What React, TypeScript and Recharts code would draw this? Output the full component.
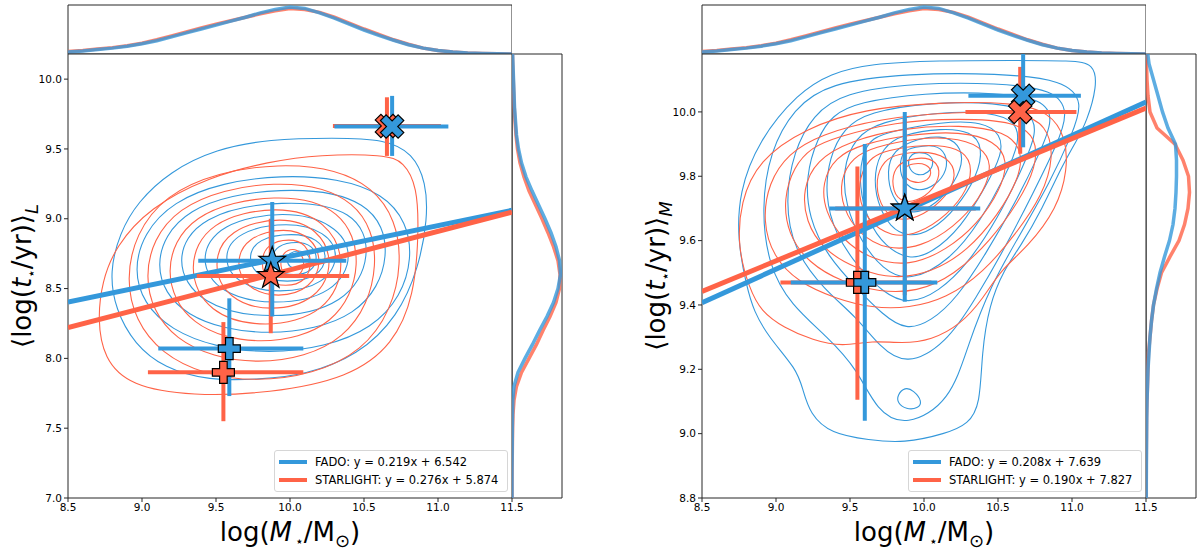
import React from 'react';
import { ScatterChart, Scatter, XAxis, YAxis, ReferenceArea, Legend } from 'recharts';

const BLUE = '#3498db';
const RED = '#ff6347';
const INK = '#262626';
const FONT = '"DejaVu Sans", sans-serif';

// axis ticks
const massTicks = [8.5, 9.0, 9.5, 10.0, 10.5, 11.0, 11.5];
const ageTicksL = [7.0, 7.5, 8.0, 8.5, 9.0, 9.5, 10.0];
const ageTicksM = [8.8, 9.0, 9.2, 9.4, 9.6, 9.8, 10.0];

// linear fits [slope, intercept]
const fadoFitL = [0.219, 6.542];
const starlightFitL = [0.276, 5.874];
const fadoFitM = [0.208, 7.639];
const starlightFitM = [0.19, 7.827];

// top histograms (stellar mass), normalised height
const massBins = [8.5, 8.6, 8.7, 8.8, 8.9, 9.0, 9.1, 9.2, 9.3, 9.4, 9.5, 9.6, 9.7, 9.8, 9.9, 10.0, 10.1, 10.2, 10.3, 10.4, 10.5, 10.6, 10.7, 10.8, 10.9, 11.0, 11.1, 11.2, 11.3, 11.4, 11.5];
const fadoMassHist = [0.04, 0.06, 0.09, 0.12, 0.16, 0.21, 0.27, 0.35, 0.43, 0.51, 0.59, 0.67, 0.75, 0.84, 0.91, 0.96, 0.93, 0.84, 0.73, 0.61, 0.49, 0.38, 0.28, 0.19, 0.12, 0.07, 0.04, 0.02, 0.01, 0.005, 0];
const starlightMassHist = [0.05, 0.07, 0.1, 0.13, 0.17, 0.22, 0.29, 0.37, 0.45, 0.53, 0.61, 0.68, 0.75, 0.82, 0.88, 0.93, 0.91, 0.85, 0.75, 0.63, 0.51, 0.4, 0.29, 0.2, 0.12, 0.07, 0.04, 0.02, 0.01, 0.005, 0];

// right histograms (age)
const ageBinsL = [7.0, 7.1, 7.2, 7.3, 7.4, 7.5, 7.6, 7.7, 7.8, 7.9, 8.0, 8.1, 8.2, 8.3, 8.4, 8.5, 8.6, 8.7, 8.8, 8.9, 9.0, 9.1, 9.2, 9.3, 9.4, 9.5, 9.6, 9.7, 9.8, 9.9, 10.0, 10.1, 10.2];
const fadoAgeHistL = [0, 0, 0, 0.003, 0.005, 0.007, 0.01, 0.015, 0.04, 0.12, 0.26, 0.41, 0.55, 0.7, 0.83, 0.92, 0.97, 0.95, 0.88, 0.78, 0.66, 0.53, 0.4, 0.28, 0.19, 0.13, 0.09, 0.07, 0.05, 0.04, 0.03, 0.02, 0.01];
const starlightAgeHistL = [0, 0, 0.002, 0.005, 0.008, 0.012, 0.02, 0.04, 0.09, 0.19, 0.34, 0.49, 0.62, 0.76, 0.88, 0.95, 0.96, 0.92, 0.83, 0.72, 0.6, 0.47, 0.34, 0.24, 0.16, 0.11, 0.08, 0.06, 0.045, 0.035, 0.025, 0.015, 0.008];
const ageBinsM = [8.8, 8.85, 8.9, 8.95, 9.0, 9.05, 9.1, 9.15, 9.2, 9.25, 9.3, 9.35, 9.4, 9.45, 9.5, 9.55, 9.6, 9.65, 9.7, 9.75, 9.8, 9.85, 9.9, 9.95, 10.0, 10.05, 10.1, 10.15, 10.2];
const fadoAgeHistM = [0.005, 0.006, 0.008, 0.01, 0.012, 0.015, 0.02, 0.03, 0.04, 0.06, 0.08, 0.11, 0.15, 0.21, 0.28, 0.37, 0.47, 0.54, 0.58, 0.6, 0.61, 0.61, 0.59, 0.44, 0.33, 0.24, 0.15, 0.06, 0.02];
const starlightAgeHistM = [0.003, 0.004, 0.005, 0.007, 0.01, 0.012, 0.02, 0.03, 0.04, 0.05, 0.08, 0.11, 0.15, 0.22, 0.31, 0.48, 0.66, 0.77, 0.84, 0.87, 0.85, 0.74, 0.58, 0.22, 0.08, 0.04, 0.02, 0.01, 0.005];

// density contours, left panel (light-weighted age)
const fadoContoursL = [
  [[9.86, 9.57], [10.3, 9.58], [10.64, 9.57], [10.83, 9.47], [10.92, 9.26], [10.93, 9.0], [10.87, 8.65], [10.73, 8.3], [10.46, 8.02], [10.1, 7.88], [9.8, 7.85], [9.45, 7.84], [9.15, 7.93], [8.95, 8.1], [8.82, 8.35], [8.78, 8.62], [8.85, 8.9], [8.97, 9.12], [9.19, 9.34], [9.5, 9.5]],
  [[10.88, 8.72], [10.7, 9.23], [9.95, 9.35], [9.14, 9.17], [8.88, 8.62], [9.14, 8.17], [9.85, 7.99], [10.62, 8.17]],
  [[10.7, 8.74], [10.56, 9.15], [9.95, 9.24], [9.26, 9.1], [9.05, 8.66], [9.26, 8.28], [9.85, 8.14], [10.49, 8.28]],
  [[10.56, 8.74], [10.45, 9.07], [9.96, 9.14], [9.385, 9.03], [9.21, 8.7], [9.385, 8.38], [9.87, 8.27], [10.385, 8.38]],
  [[10.44, 8.74], [10.3, 8.97], [9.97, 9.06], [9.52, 8.97], [9.38, 8.71], [9.52, 8.46], [9.9, 8.375], [10.3, 8.46]],
  [[10.34, 8.74], [10.24, 8.91], [9.99, 8.98], [9.64, 8.91], [9.54, 8.72], [9.64, 8.53], [9.93, 8.46], [10.24, 8.53]],
  [[10.26, 8.73], [10.19, 8.86], [10.02, 8.9], [9.78, 8.86], [9.71, 8.72], [9.78, 8.58], [9.98, 8.54], [10.19, 8.58]],
  [[10.19, 8.72], [10.15, 8.81], [10.05, 8.84], [9.91, 8.81], [9.87, 8.715], [9.91, 8.62], [10.02, 8.59], [10.15, 8.62]],
  [[10.14, 8.705], [10.115, 8.757], [10.06, 8.775], [9.995, 8.757], [9.975, 8.705], [9.995, 8.653], [10.05, 8.635], [10.115, 8.653]],
];
const starlightContoursL = [
  [[9.86, 9.41], [10.2, 9.46], [10.64, 9.46], [10.77, 9.41], [10.86, 9.23], [10.87, 8.9], [10.84, 8.45], [10.7, 8.1], [10.4, 7.86], [9.86, 7.75], [9.34, 7.73], [8.92, 7.8], [8.74, 8.0], [8.7, 8.28], [8.73, 8.55], [8.82, 8.8], [9.05, 9.08], [9.45, 9.3]],
  [[10.81, 8.7], [10.62, 9.28], [9.95, 9.44], [9.08, 9.23], [8.83, 8.55], [9.08, 7.99], [9.75, 7.78], [10.56, 7.99]],
  [[10.63, 8.68], [10.48, 9.16], [9.92, 9.3], [9.18, 9.12], [8.97, 8.58], [9.18, 8.1], [9.78, 7.92], [10.42, 8.1]],
  [[10.5, 8.68], [10.36, 9.08], [9.92, 9.19], [9.31, 9.05], [9.13, 8.62], [9.31, 8.22], [9.8, 8.08], [10.32, 8.22]],
  [[10.39, 8.68], [10.25, 8.99], [9.93, 9.1], [9.44, 8.99], [9.3, 8.645], [9.44, 8.32], [9.83, 8.21], [10.25, 8.32]],
  [[10.3, 8.69], [10.19, 8.93], [9.95, 9.02], [9.58, 8.93], [9.47, 8.67], [9.58, 8.42], [9.87, 8.33], [10.19, 8.42]],
  [[10.22, 8.7], [10.145, 8.87], [9.97, 8.94], [9.705, 8.87], [9.63, 8.68], [9.705, 8.5], [9.92, 8.43], [10.145, 8.5]],
  [[10.15, 8.69], [10.11, 8.82], [10.0, 8.86], [9.84, 8.82], [9.8, 8.685], [9.84, 8.55], [9.97, 8.51], [10.11, 8.55]],
  [[10.1, 8.68], [10.075, 8.76], [10.02, 8.79], [9.955, 8.76], [9.93, 8.68], [9.955, 8.6], [10.01, 8.57], [10.075, 8.6]],
];

// density contours, right panel (mass-weighted age)
const fadoContoursM = [
  [[9.63, 10.15], [10.1, 10.16], [10.6, 10.16], [11.0, 10.16], [11.15, 10.15], [11.17, 10.08], [11.1, 9.97], [11.03, 9.91], [10.93, 9.83], [10.8, 9.7], [10.65, 9.58], [10.54, 9.51], [10.44, 9.4], [10.39, 9.25], [10.38, 9.09], [10.3, 9.03], [10.15, 9.0], [9.86, 8.97], [9.63, 8.98], [9.37, 9.0], [9.23, 9.06], [9.18, 9.14], [9.14, 9.2], [8.95, 9.3], [8.85, 9.38], [8.8, 9.46], [8.74, 9.6], [8.75, 9.75], [8.88, 9.91], [9.15, 10.06], [9.37, 10.12]],
  [[9.35, 10.09], [9.9, 10.12], [10.5, 10.12], [10.95, 10.1], [11.08, 10.03], [11.0, 9.93], [10.85, 9.78], [10.65, 9.62], [10.45, 9.46], [10.3, 9.28], [10.18, 9.1], [9.88, 9.02], [9.68, 9.07], [9.55, 9.2], [9.35, 9.3], [9.1, 9.4], [8.95, 9.52], [8.9, 9.7], [8.96, 9.88], [9.12, 10.01]],
  [[9.45, 10.06], [9.95, 10.09], [10.5, 10.09], [10.88, 10.07], [10.98, 10.0], [10.9, 9.9], [10.74, 9.75], [10.55, 9.58], [10.35, 9.42], [10.15, 9.28], [9.88, 9.21], [9.7, 9.27], [9.55, 9.36], [9.32, 9.45], [9.12, 9.57], [9.06, 9.72], [9.12, 9.88], [9.25, 9.99]],
  [[9.55, 10.03], [10.0, 10.06], [10.5, 10.06], [10.8, 10.04], [10.88, 9.98], [10.78, 9.87], [10.62, 9.72], [10.42, 9.56], [10.22, 9.42], [10.05, 9.35], [9.88, 9.32], [9.72, 9.37], [9.55, 9.45], [9.35, 9.55], [9.22, 9.67], [9.2, 9.8], [9.28, 9.92], [9.38, 9.99]],
  [[9.62, 10.0], [10.05, 10.03], [10.5, 10.03], [10.72, 10.0], [10.77, 9.94], [10.66, 9.82], [10.5, 9.67], [10.3, 9.53], [10.1, 9.44], [9.89, 9.4], [9.72, 9.44], [9.55, 9.52], [9.4, 9.62], [9.33, 9.74], [9.36, 9.86], [9.46, 9.95]],
  [[9.7, 9.97], [10.1, 10.0], [10.45, 10.0], [10.62, 9.97], [10.65, 9.91], [10.55, 9.8], [10.38, 9.66], [10.18, 9.54], [9.9, 9.47], [9.72, 9.51], [9.57, 9.6], [9.47, 9.71], [9.45, 9.82], [9.53, 9.92]],
  [[9.78, 9.94], [10.12, 9.97], [10.4, 9.97], [10.52, 9.93], [10.53, 9.87], [10.42, 9.77], [10.25, 9.64], [10.05, 9.56], [9.9, 9.54], [9.74, 9.58], [9.62, 9.66], [9.56, 9.77], [9.58, 9.87], [9.65, 9.92]],
  [[9.85, 9.93], [10.12, 9.95], [10.32, 9.94], [10.4, 9.89], [10.36, 9.8], [10.22, 9.7], [10.05, 9.63], [9.9, 9.61], [9.77, 9.64], [9.68, 9.72], [9.66, 9.81], [9.72, 9.89]],
  [[9.9, 9.91], [10.12, 9.93], [10.24, 9.9], [10.27, 9.84], [10.18, 9.76], [10.04, 9.7], [9.91, 9.68], [9.8, 9.72], [9.75, 9.79], [9.77, 9.87]],
  [[9.93, 9.89], [10.08, 9.9], [10.15, 9.87], [10.16, 9.82], [10.08, 9.77], [9.95, 9.75], [9.86, 9.78], [9.83, 9.83], [9.86, 9.88]],
  [[9.96, 9.875], [10.04, 9.87], [10.07, 9.84], [10.03, 9.81], [9.96, 9.8], [9.9, 9.82], [9.89, 9.85], [9.92, 9.87]],
  [[9.82, 9.12], [9.87, 9.145], [9.93, 9.135], [9.99, 9.1], [9.96, 9.078], [9.88, 9.075], [9.82, 9.095]],
];
const starlightContoursM = [
  [[9.2, 9.95], [9.6, 10.01], [10.1, 10.03], [10.6, 10.03], [10.85, 10.0], [10.96, 9.92], [10.97, 9.82], [10.9, 9.7], [10.7, 9.58], [10.52, 9.51], [10.4, 9.42], [10.25, 9.34], [10.05, 9.29], [9.85, 9.28], [9.65, 9.29], [9.45, 9.27], [9.25, 9.29], [9.05, 9.33], [8.9, 9.38], [8.82, 9.45], [8.74, 9.58], [8.76, 9.72], [8.88, 9.85]],
  [[9.3, 9.93], [9.7, 9.98], [10.2, 10.0], [10.65, 10.0], [10.83, 9.96], [10.88, 9.86], [10.8, 9.74], [10.62, 9.62], [10.4, 9.5], [10.15, 9.42], [9.9, 9.39], [9.65, 9.39], [9.4, 9.42], [9.15, 9.47], [8.98, 9.55], [8.91, 9.66], [8.95, 9.78], [9.08, 9.87]],
  [[9.4, 9.92], [9.8, 9.97], [10.25, 9.98], [10.62, 9.97], [10.76, 9.92], [10.76, 9.83], [10.64, 9.72], [10.45, 9.6], [10.2, 9.49], [9.95, 9.44], [9.7, 9.44], [9.45, 9.47], [9.22, 9.53], [9.08, 9.62], [9.05, 9.73], [9.12, 9.83], [9.24, 9.89]],
  [[9.5, 9.91], [9.85, 9.95], [10.25, 9.96], [10.55, 9.94], [10.67, 9.88], [10.64, 9.79], [10.5, 9.68], [10.3, 9.57], [10.05, 9.5], [9.8, 9.48], [9.55, 9.51], [9.32, 9.57], [9.2, 9.66], [9.18, 9.76], [9.27, 9.85]],
  [[9.58, 9.9], [9.9, 9.93], [10.25, 9.94], [10.48, 9.91], [10.57, 9.85], [10.52, 9.76], [10.36, 9.65], [10.15, 9.57], [9.9, 9.52], [9.65, 9.54], [9.45, 9.6], [9.33, 9.69], [9.31, 9.78], [9.4, 9.86]],
  [[9.66, 9.89], [9.95, 9.92], [10.25, 9.92], [10.42, 9.88], [10.46, 9.82], [10.38, 9.73], [10.2, 9.64], [9.98, 9.58], [9.75, 9.57], [9.56, 9.62], [9.45, 9.7], [9.43, 9.79], [9.52, 9.86]],
  [[9.74, 9.88], [10.0, 9.9], [10.24, 9.89], [10.33, 9.84], [10.3, 9.76], [10.16, 9.68], [9.96, 9.62], [9.78, 9.61], [9.62, 9.66], [9.55, 9.74], [9.58, 9.82], [9.65, 9.86]],
  [[9.82, 9.87], [10.04, 9.88], [10.19, 9.85], [10.22, 9.79], [10.12, 9.72], [9.96, 9.67], [9.8, 9.66], [9.7, 9.71], [9.67, 9.79], [9.73, 9.85]],
  [[9.9, 9.855], [10.05, 9.86], [10.12, 9.82], [10.07, 9.76], [9.95, 9.72], [9.83, 9.72], [9.78, 9.77], [9.8, 9.83]],
  [[9.92, 9.84], [10.02, 9.84], [10.06, 9.81], [10.01, 9.78], [9.92, 9.78], [9.86, 9.8], [9.87, 9.83]],
];

// medians with 16-84 percentile ranges per mass bin
const fadoPointsL = [
  { kind: 'plus', x: 9.59, y: 8.07, xr: [9.11, 10.09], yr: [7.73, 8.43] },
  { kind: 'star', x: 9.88, y: 8.7, xr: [9.38, 10.38], yr: [8.3, 9.12] },
  { kind: 'cross', x: 10.69, y: 9.66, xr: [10.3, 11.07], yr: [9.45, 9.88] },
];
const starlightPointsL = [
  { kind: 'plus', x: 9.55, y: 7.9, xr: [9.04, 10.09], yr: [7.55, 8.26] },
  { kind: 'star', x: 9.87, y: 8.59, xr: [9.37, 10.4], yr: [8.18, 9.0] },
  { kind: 'cross', x: 10.655, y: 9.665, xr: [10.29, 11.02], yr: [9.45, 9.87] },
];
const fadoPointsM = [
  { kind: 'plus', x: 9.6, y: 9.47, xr: [9.1, 10.09], yr: [9.04, 9.9] },
  { kind: 'star', x: 9.87, y: 9.7, xr: [9.36, 10.38], yr: [9.41, 10.0] },
  { kind: 'cross', x: 10.67, y: 10.05, xr: [10.3, 11.06], yr: [9.89, 10.2] },
];
const starlightPointsM = [
  { kind: 'plus', x: 9.55, y: 9.47, xr: [9.03, 10.05], yr: [9.105, 9.83] },
  { kind: 'star', x: 9.87, y: 9.7, xr: [9.4, 10.35], yr: [9.43, 9.98] },
  { kind: 'cross', x: 10.65, y: 10.0, xr: [10.28, 11.03], yr: [9.87, 10.14] },
];

const hidden = () => <g />;
const fmt = (v: number) => v.toFixed(1);
const toPts = (arr: number[][]) => arr.map(([x, y]) => ({ x, y }));
const histPts = (bins: number[], h: number[], vertical: boolean) =>
  bins.map((b, i) => (vertical ? { x: h[i], y: b } : { x: b, y: h[i] }));

function markerPath(kind: string, cx: number, cy: number) {
  if (kind === 'star') {
    const R = 14;
    const r = R * 0.4;
    let d = '';
    for (let i = 0; i < 10; i++) {
      const a = -Math.PI / 2 + (i * Math.PI) / 5;
      const rad = i % 2 ? r : R;
      d += (i ? 'L' : 'M') + (cx + rad * Math.cos(a)).toFixed(2) + ',' + (cy + rad * Math.sin(a)).toFixed(2);
    }
    return d + 'Z';
  }
  const s = kind === 'plus' ? 11 : 12.5;
  const w = kind === 'plus' ? 3.8 : 4;
  const rot = kind === 'cross' ? Math.PI / 4 : 0;
  const pts = [[-w, -s], [w, -s], [w, -w], [s, -w], [s, w], [w, w], [w, s], [-w, s], [-w, w], [-s, w], [-s, -w], [-w, -w]];
  return (
    pts
      .map(([px, py], i) => {
        const x = cx + px * Math.cos(rot) - py * Math.sin(rot);
        const y = cy + px * Math.sin(rot) + py * Math.cos(rot);
        return (i ? 'L' : 'M') + x.toFixed(2) + ',' + y.toFixed(2);
      })
      .join('') + 'Z'
  );
}

const ageLabel = (sub: string) => () => (
  <text x={31} y={276} transform="rotate(-90 31 276)" textAnchor="middle" fontFamily={FONT} fontSize={26} fill="#000">
    <tspan>⟨log(</tspan>
    <tspan fontStyle="italic">t</tspan>
    <tspan fontSize={14} dy={5}>⋆</tspan>
    <tspan dy={-5}>/yr)⟩</tspan>
    <tspan fontSize={18} fontStyle="italic" dy={7}>{sub}</tspan>
  </text>
);

const massLabel = () => (
  <text x={290} y={541} textAnchor="middle" fontFamily={FONT} fontSize={26} fill="#000">
    <tspan>log(</tspan>
    <tspan fontStyle="italic">M</tspan>
    <tspan fontSize={14} dy={5} dx={3}>⋆</tspan>
    <tspan dy={-5}>/M</tspan>
    <tspan fontSize={18} dy={6}>⊙</tspan>
    <tspan dy={-6}>)</tspan>
  </text>
);

function FitLegend({ fits }: { fits: { name: string; color: string; fit: number[] }[] }) {
  return (
    <div
      style={{
        border: '1px solid #d6d6d6',
        borderRadius: 3,
        background: 'rgba(255,255,255,0.85)',
        padding: '2px 5px 2px 4px',
        fontFamily: FONT,
        fontSize: 11.5,
        color: '#000',
        boxSizing: 'border-box',
        width: 234,
      }}
    >
      {fits.map((f) => (
        <div key={f.name} style={{ display: 'flex', alignItems: 'center', height: 18, whiteSpace: 'nowrap' }}>
          <div style={{ width: 28, height: 4, background: f.color, marginRight: 8 }} />
          <span>
            {f.name}: y = {f.fit[0].toFixed(3)}x + {f.fit[1].toFixed(3)}
          </span>
        </div>
      ))}
    </div>
  );
}

type Pt = { kind: string; x: number; y: number; xr: number[]; yr: number[] };

function Panel({ offset, yDomain, yTicks, sub, fado, starlight, fadoC, starlightC, fadoH, starlightH, ageBins, fadoFit, starlightFit, order }: any) {
  const fits = [
    { name: 'FADO', color: BLUE, fit: fadoFit },
    { name: 'STARLIGHT', color: RED, fit: starlightFit },
  ];
  const fitLine = (f: number[]) => [
    { x: 8.5, y: f[0] * 8.5 + f[1] },
    { x: 11.5, y: f[0] * 11.5 + f[1] },
  ];
  const bars = (pts: Pt[], color: string, tag: string) =>
    pts.flatMap((p, i) => [
      <Scatter key={`${tag}h${i}`} data={[{ x: p.xr[0], y: p.y }, { x: p.xr[1], y: p.y }]} line={{ stroke: color, strokeWidth: 4 }} shape={hidden} isAnimationActive={false} />,
      <Scatter key={`${tag}v${i}`} data={[{ x: p.x, y: p.yr[0] }, { x: p.x, y: p.yr[1] }]} line={{ stroke: color, strokeWidth: 4 }} shape={hidden} isAnimationActive={false} />,
    ]);
  const markers = order.map(([series, i]: [string, number]) => {
    const p: Pt = series === 'fado' ? fado[i] : starlight[i];
    const color = series === 'fado' ? BLUE : RED;
    return (
      <Scatter
        key={`m-${series}-${i}`}
        data={[{ x: p.x, y: p.y }]}
        shape={(s: any) => <path d={markerPath(p.kind, s.cx, s.cy)} fill={color} stroke="#000" strokeWidth={1.2} strokeLinejoin="miter" />}
        isAnimationActive={false}
      />
    );
  });

  return (
    <>
      {/* top marginal histogram */}
      <div style={{ position: 'absolute', left: offset, top: 0 }}>
        <ScatterChart width={512} height={54} margin={{ top: 5, right: 0, bottom: 0, left: 68 }}>
          <XAxis type="number" dataKey="x" domain={[8.5, 11.5]} hide allowDataOverflow />
          <YAxis type="number" dataKey="y" domain={[0, 1]} hide allowDataOverflow />
          <ReferenceArea x1={8.5} x2={11.5} y1={0} y2={1} fill="none" stroke={INK} strokeWidth={1} ifOverflow="visible" />
          <Scatter data={histPts(massBins, starlightMassHist, false)} line={{ stroke: RED, strokeWidth: 3.5, strokeOpacity: 0.8 }} shape={hidden} isAnimationActive={false} />
          <Scatter data={histPts(massBins, fadoMassHist, false)} line={{ stroke: BLUE, strokeWidth: 3.5, strokeOpacity: 0.8 }} shape={hidden} isAnimationActive={false} />
        </ScatterChart>
      </div>

      {/* main joint panel */}
      <div style={{ position: 'absolute', left: offset, top: 0 }}>
        <ScatterChart width={560} height={552} margin={{ top: 54, right: 48, bottom: 0, left: 0 }}>
          <XAxis
            type="number"
            dataKey="x"
            domain={[8.5, 11.5]}
            ticks={massTicks}
            interval={0}
            tickFormatter={fmt}
            height={54}
            axisLine={false}
            tickLine={{ stroke: INK }}
            tickSize={4}
            tick={{ fontSize: 10.5, fill: '#000', fontFamily: FONT }}
            allowDataOverflow
            label={massLabel}
          />
          <YAxis
            type="number"
            dataKey="y"
            domain={yDomain}
            ticks={yTicks}
            interval={0}
            tickFormatter={fmt}
            width={68}
            axisLine={false}
            tickLine={{ stroke: INK }}
            tickSize={4}
            tick={{ fontSize: 10.5, fill: '#000', fontFamily: FONT }}
            allowDataOverflow
            label={ageLabel(sub)}
          />
          <ReferenceArea x1={8.5} x2={11.5} y1={yDomain[0]} y2={yDomain[1]} fill="none" stroke={INK} strokeWidth={1} ifOverflow="visible" />
          {fadoC.map((c: number[][], i: number) => (
            <Scatter key={`fc${i}`} data={toPts(c)} line={{ stroke: BLUE, strokeWidth: 1.1 }} lineJointType="basisClosed" shape={hidden} isAnimationActive={false} />
          ))}
          {starlightC.map((c: number[][], i: number) => (
            <Scatter key={`sc${i}`} data={toPts(c)} line={{ stroke: RED, strokeWidth: 1.1 }} lineJointType="basisClosed" shape={hidden} isAnimationActive={false} />
          ))}
          <Scatter data={fitLine(fadoFit)} line={{ stroke: BLUE, strokeWidth: 5 }} shape={hidden} isAnimationActive={false} />
          <Scatter data={fitLine(starlightFit)} line={{ stroke: RED, strokeWidth: 5 }} shape={hidden} isAnimationActive={false} />
          {bars(starlight, RED, 's')}
          {bars(fado, BLUE, 'f')}
          {markers}
          <Legend
            layout="vertical"
            align="center"
            verticalAlign="middle"
            wrapperStyle={{ left: 274, top: 450, width: 234, height: 41 }}
            content={() => <FitLegend fits={fits} />}
          />
        </ScatterChart>
      </div>

      {/* right marginal histogram */}
      <div style={{ position: 'absolute', left: offset + 512, top: 0 }}>
        <ScatterChart width={52} height={552} margin={{ top: 54, right: 2, bottom: 54, left: 0 }}>
          <XAxis type="number" dataKey="x" domain={[0, 1]} hide allowDataOverflow />
          <YAxis type="number" dataKey="y" domain={yDomain} hide allowDataOverflow />
          <ReferenceArea x1={0} x2={1} y1={yDomain[0]} y2={yDomain[1]} fill="none" stroke={INK} strokeWidth={1} ifOverflow="visible" />
          <Scatter data={histPts(ageBins, starlightH, true)} line={{ stroke: RED, strokeWidth: 3.5, strokeOpacity: 0.8 }} shape={hidden} isAnimationActive={false} />
          <Scatter data={histPts(ageBins, fadoH, true)} line={{ stroke: BLUE, strokeWidth: 3.5, strokeOpacity: 0.8 }} shape={hidden} isAnimationActive={false} />
        </ScatterChart>
      </div>
    </>
  );
}

export default function App() {
  return (
    <div style={{ position: 'absolute', left: 0, top: 0, width: 1200, height: 552, background: '#fff', overflow: 'hidden' }}>
      <Panel
        offset={0}
        yDomain={[7.0, 10.18]}
        yTicks={ageTicksL}
        sub="L"
        fado={fadoPointsL}
        starlight={starlightPointsL}
        fadoC={fadoContoursL}
        starlightC={starlightContoursL}
        fadoH={fadoAgeHistL}
        starlightH={starlightAgeHistL}
        ageBins={ageBinsL}
        fadoFit={fadoFitL}
        starlightFit={starlightFitL}
        order={[['starlight', 0], ['fado', 0], ['fado', 1], ['starlight', 1], ['starlight', 2], ['fado', 2]]}
      />
      <Panel
        offset={634}
        yDomain={[8.8, 10.18]}
        yTicks={ageTicksM}
        sub="M"
        fado={fadoPointsM}
        starlight={starlightPointsM}
        fadoC={fadoContoursM}
        starlightC={starlightContoursM}
        fadoH={fadoAgeHistM}
        starlightH={starlightAgeHistM}
        ageBins={ageBinsM}
        fadoFit={fadoFitM}
        starlightFit={starlightFitM}
        order={[['starlight', 0], ['fado', 0], ['starlight', 1], ['fado', 1], ['fado', 2], ['starlight', 2]]}
      />
    </div>
  );
}
